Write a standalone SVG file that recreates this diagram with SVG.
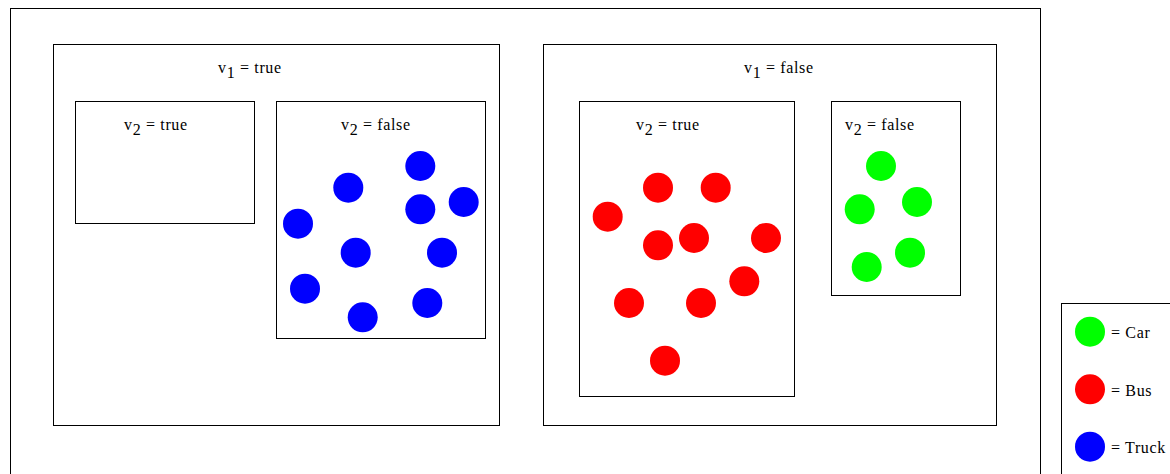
<svg xmlns="http://www.w3.org/2000/svg" width="1170" height="474" viewBox="0 0 1170 474">
<style>
.box{fill:none;stroke:#000;stroke-width:1}
text{font-family:"Liberation Serif","Times New Roman",serif;font-size:16px;letter-spacing:0.65px;fill:#000}
.car{fill:#00ff00}
.bus{fill:#ff0000}
.truck{fill:#0000ff}
</style>
<rect width="1170" height="474" fill="#fff"/>
<g id="outer"><rect class="box" x="10.5" y="8.5" width="1030" height="480"/></g>
<g id="v1true">
<rect class="box" x="53.5" y="44.5" width="446" height="381"/>
<text x="218" y="73">v<tspan dy="5">1</tspan><tspan dy="-5"> = true</tspan></text>
</g>
<g id="v1true-v2true">
<rect class="box" x="75.5" y="101.5" width="179" height="122"/>
<text x="124" y="130">v<tspan dy="5">2</tspan><tspan dy="-5"> = true</tspan></text>
</g>
<g id="v1true-v2false">
<rect class="box" x="276.5" y="101.5" width="209" height="237"/>
<text x="341" y="130">v<tspan dy="5">2</tspan><tspan dy="-5"> = false</tspan></text>
<circle class="truck" cx="420.3" cy="166" r="15"/>
<circle class="truck" cx="348.3" cy="187.7" r="15"/>
<circle class="truck" cx="463.7" cy="202" r="15"/>
<circle class="truck" cx="420.3" cy="209.3" r="15"/>
<circle class="truck" cx="298" cy="223.7" r="15"/>
<circle class="truck" cx="355.7" cy="252.7" r="15"/>
<circle class="truck" cx="442" cy="252.7" r="15"/>
<circle class="truck" cx="305" cy="288.7" r="15"/>
<circle class="truck" cx="427.3" cy="303" r="15"/>
<circle class="truck" cx="362.7" cy="317.3" r="15"/>
</g>
<g id="v1false">
<rect class="box" x="543.5" y="44.5" width="453" height="381"/>
<text x="744" y="73">v<tspan dy="5">1</tspan><tspan dy="-5"> = false</tspan></text>
</g>
<g id="v1false-v2true">
<rect class="box" x="579.5" y="101.5" width="215" height="295"/>
<text x="636" y="130">v<tspan dy="5">2</tspan><tspan dy="-5"> = true</tspan></text>
<circle class="bus" cx="658" cy="187.7" r="15"/>
<circle class="bus" cx="715.7" cy="187.7" r="15"/>
<circle class="bus" cx="607.7" cy="216.7" r="15"/>
<circle class="bus" cx="658" cy="245.3" r="15"/>
<circle class="bus" cx="694" cy="238" r="15"/>
<circle class="bus" cx="766" cy="238" r="15"/>
<circle class="bus" cx="744.3" cy="281.3" r="15"/>
<circle class="bus" cx="629" cy="303" r="15"/>
<circle class="bus" cx="701" cy="303" r="15"/>
<circle class="bus" cx="665" cy="360.7" r="15"/>
</g>
<g id="v1false-v2false">
<rect class="box" x="831.5" y="101.5" width="129" height="194"/>
<text x="845" y="130">v<tspan dy="5">2</tspan><tspan dy="-5"> = false</tspan></text>
<circle class="car" cx="881" cy="166" r="15"/>
<circle class="car" cx="917" cy="202" r="15"/>
<circle class="car" cx="859.7" cy="209.3" r="15"/>
<circle class="car" cx="910" cy="252.7" r="15"/>
<circle class="car" cx="866.7" cy="267" r="15"/>
</g>
<g id="legend">
<rect class="box" x="1061.5" y="303.5" width="120" height="200"/>
<circle class="car" cx="1090" cy="331.7" r="15"/>
<text x="1111" y="338">= Car</text>
<circle class="bus" cx="1090" cy="389.3" r="15"/>
<text x="1111" y="396">= Bus</text>
<circle class="truck" cx="1090" cy="446.7" r="15"/>
<text x="1111" y="453">= Truck</text>
</g>
<g id="connectors"></g>
</svg>
